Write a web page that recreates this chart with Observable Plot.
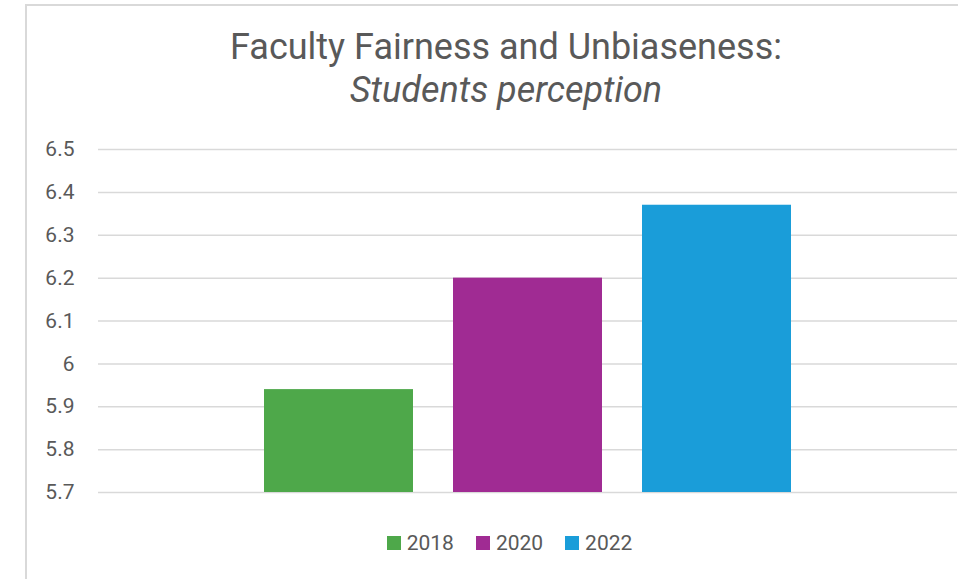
<!DOCTYPE html>
<html><head><meta charset="utf-8">
<script src="https://cdn.jsdelivr.net/npm/d3@7"></script>
<script src="https://cdn.jsdelivr.net/npm/@observablehq/plot@0.6"></script>
<style>
html,body{margin:0;padding:0;background:#fff;}
body{width:958px;height:579px;overflow:hidden;position:relative;font-family:Roboto,"Liberation Sans",sans-serif;color:#595959;}
#frame{position:absolute;left:25px;top:4px;width:1100px;height:700px;border:2px solid #d9d9d9;box-sizing:border-box;}
#title{position:absolute;left:0;top:26px;width:1012px;text-align:center;font-size:36px;line-height:43px;color:#595959;}
#chart{position:absolute;left:0;top:120px;}
#legend{position:absolute;left:0;top:531px;width:1019px;display:flex;justify-content:center;gap:22px;font-size:21px;line-height:24px;}
.item{display:flex;align-items:center;}
.sw{width:14px;height:14px;margin-right:6px;}
</style></head>
<body>
<div id="frame"></div>
<div id="title">Faculty Fairness and Unbiaseness:<br><i>Students perception</i></div>
<div id="chart"></div>
<div id="legend"></div>
<script>
const years = ["2018", "2020", "2022"];
const values = [5.94, 6.20, 6.37];
const colors = ["#4EA84A", "#A02B93", "#1A9DD9"];
const yTicks = [5.7, 5.8, 5.9, 6, 6.1, 6.2, 6.3, 6.4, 6.5];
const yDomain = [5.7, 6.5];

const data = years.map((y, i) => ({year: y, value: values[i]}));

const plot = Plot.plot({
  width: 958,
  height: 400,
  marginLeft: 98,
  marginRight: 1,
  marginTop: 29,
  marginBottom: 28,
  style: {fontFamily: "Roboto, 'Liberation Sans', sans-serif", fontSize: "21px", color: "#595959", background: "transparent", overflow: "visible"},
  x: {domain: years, axis: null, paddingInner: 0.2105, paddingOuter: 0.866},
  y: {domain: yDomain, label: null},
  color: {domain: years, range: colors},
  marks: [
    Plot.ruleY(yTicks, {stroke: "#d9d9d9", strokeWidth: 1.5}),
    Plot.barY(data, {x: "year", y1: yDomain[0], y2: "value", fill: "year"}),
    Plot.axisY(yTicks, {tickSize: 0, tickPadding: 24, tickFormat: d => String(d), fontSize: 21, fill: "#595959", label: null})
  ]
});
document.getElementById("chart").appendChild(plot);

const legend = d3.select("#legend");
years.forEach((y, i) => {
  const it = legend.append("div").attr("class", "item");
  it.append("div").attr("class", "sw").style("background", colors[i]);
  it.append("span").text(y);
});
</script>
</body></html>
